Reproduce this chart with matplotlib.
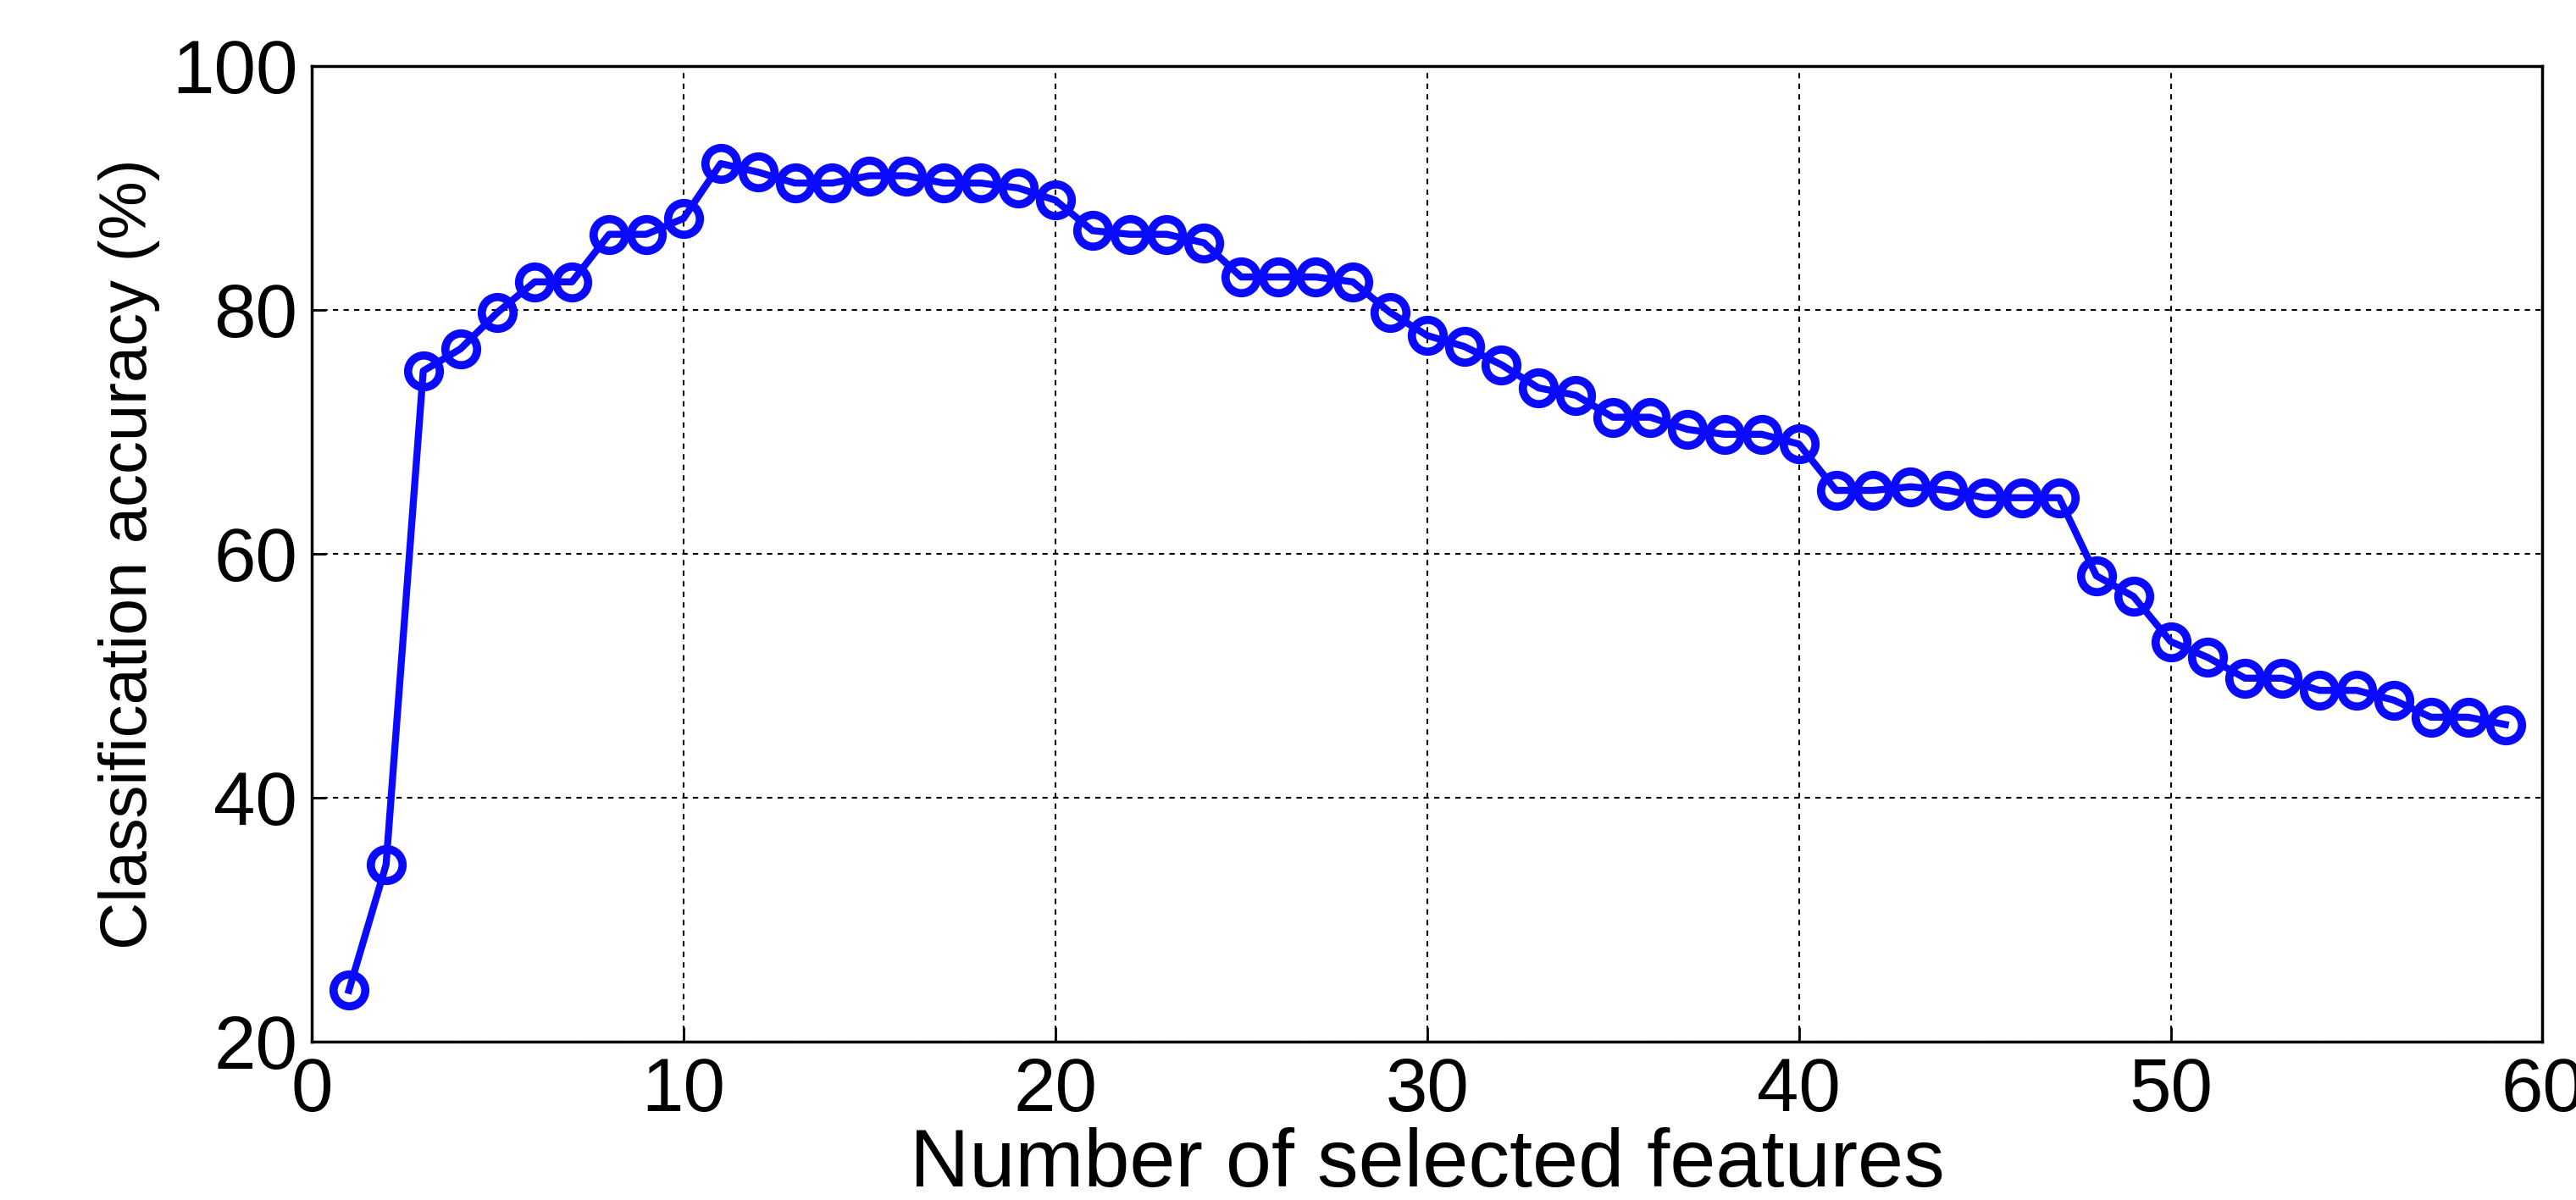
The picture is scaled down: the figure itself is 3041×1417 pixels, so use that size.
import numpy as np
import matplotlib.pyplot as plt

plt.rcParams['font.family'] = ['Liberation Sans', 'DejaVu Sans']

n_features = list(range(1, 60))
accuracy = [24.2, 34.5, 75.0, 76.8, 79.8, 82.3, 82.3, 86.2, 86.2, 87.5,
            92.0, 91.3, 90.4, 90.4, 91.0, 91.0, 90.4, 90.4, 90.0, 89.0,
            86.5, 86.2, 86.2, 85.5, 82.7, 82.7, 82.7, 82.3, 79.8, 77.9,
            77.0, 75.5, 73.6, 73.0, 71.2, 71.2, 70.2, 69.8, 69.8, 69.0,
            65.2, 65.2, 65.5, 65.2, 64.6, 64.6, 64.6, 58.2, 56.5, 52.8,
            51.5, 49.8, 49.8, 48.8, 48.8, 48.0, 46.6, 46.6, 46.0]

fig = plt.figure(figsize=(30.41, 14.17), dpi=100)
ax = fig.add_axes([0.121, 0.132, 0.866, 0.813])

ax.plot(n_features, accuracy, color='#0a0aff', linewidth=6,
        marker='o', markersize=27, markerfacecolor='none',
        markeredgewidth=7, markeredgecolor='#0a0aff')

ax.set_xlim(0, 60)
ax.set_ylim(20, 100)
ax.set_xticks(range(0, 61, 10))
ax.set_yticks(range(20, 101, 20))
ax.grid(True, color='black', linestyle=(0, (3, 3)), linewidth=1.5)
ax.tick_params(labelsize=64, direction='in', length=12, width=2, pad=12)
for s in ax.spines.values():
    s.set_linewidth(2.5)

ax.set_xlabel('Number of selected features', fontsize=70, labelpad=0)
ax.set_ylabel('Classification accuracy (%)', fontsize=56, labelpad=10)

fig.savefig('out.png', dpi=100)
